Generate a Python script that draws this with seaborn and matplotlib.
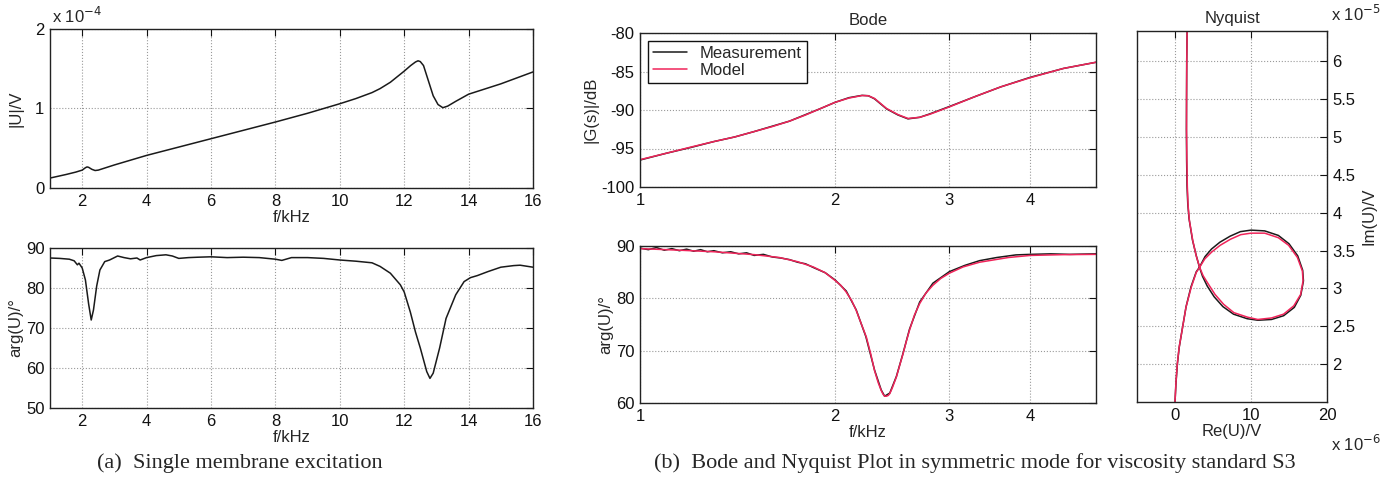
import numpy as np
import pandas as pd
import matplotlib
matplotlib.use("Agg")
import matplotlib.pyplot as plt
import seaborn as sns

# ---- data ----

# (a) single membrane excitation
a_freq = [1.0, 1.5, 1.8, 2.0, 2.1, 2.15, 2.2, 2.3, 2.4, 2.5, 3.0, 4.0, 5.0, 6.0, 7.0, 8.0, 9.0,
          10.0, 10.5, 11.0, 11.25, 11.57, 12.0, 12.2, 12.35, 12.43, 12.5, 12.6, 12.75, 12.9,
          13.05, 13.2, 13.35, 13.6, 14.0, 14.5, 15.0, 15.5, 16.0]
a_mag = [0.125, 0.17, 0.20, 0.225, 0.255, 0.265, 0.26, 0.235, 0.22, 0.225, 0.29, 0.41, 0.515,
         0.62, 0.725, 0.83, 0.94, 1.06, 1.125, 1.2, 1.25, 1.33, 1.47, 1.54, 1.585, 1.6, 1.59,
         1.54, 1.35, 1.16, 1.05, 1.01, 1.03, 1.09, 1.18, 1.245, 1.31, 1.385, 1.46]  # x 1e-4 V

a_pfreq = [1.0, 1.3, 1.6, 1.75, 1.85, 1.9, 2.0, 2.1, 2.2, 2.28, 2.35, 2.45, 2.55, 2.7, 2.85,
           3.0, 3.1, 3.3, 3.5, 3.7, 3.8, 4.0, 4.3, 4.6, 4.8, 5.0, 5.3, 5.6, 6.0, 6.5, 7.0, 7.5,
           8.0, 8.2, 8.5, 9.0, 9.5, 10.0, 10.5, 11.0, 11.25, 11.57, 11.88, 12.0, 12.19, 12.35,
           12.5, 12.7, 12.8, 12.9, 13.1, 13.3, 13.6, 13.86, 14.06, 14.27, 14.6, 15.0, 15.4,
           15.6, 16.0]
a_phase = [87.5, 87.4, 87.2, 86.8, 85.8, 86.2, 85.0, 82.0, 76.0, 72.0, 74.5, 80.5, 84.5, 86.6,
           87.0, 87.6, 88.0, 87.6, 87.3, 87.5, 87.0, 87.6, 88.1, 88.3, 88.0, 87.4, 87.6, 87.7,
           87.8, 87.6, 87.7, 87.6, 87.2, 86.9, 87.6, 87.6, 87.4, 87.0, 86.7, 86.3, 85.4, 83.7,
           80.8, 79.0, 74.0, 69.0, 65.0, 59.1, 57.4, 58.7, 65.0, 72.4, 78.3, 81.6, 82.6, 83.1,
           84.1, 85.2, 85.6, 85.7, 85.2]

# (b) Bode, magnitude
bode_freq = [1.0, 1.1, 1.2, 1.3, 1.4, 1.5, 1.6, 1.7, 1.8, 1.9, 2.0, 2.1, 2.2, 2.25, 2.3, 2.4,
             2.5, 2.59, 2.7, 2.8, 3.0, 3.3, 3.6, 4.0, 4.5, 5.05]
bode_mag_model = [-96.45, -95.6, -94.8, -94.1, -93.5, -92.8, -92.15, -91.45, -90.65, -89.8,
                  -89.0, -88.45, -88.12, -88.15, -88.5, -89.8, -90.6, -91.1, -90.95, -90.55,
                  -89.6, -88.2, -87.0, -85.8, -84.6, -83.8]
bode_mag_meas = [-96.5, -95.6, -94.85, -94.1, -93.5, -92.8, -92.1, -91.45, -90.6, -89.8,
                 -89.0, -88.4, -88.1, -88.15, -88.55, -89.85, -90.65, -91.15, -90.95, -90.5,
                 -89.55, -88.2, -87.0, -85.75, -84.6, -83.8]

# (b) Bode, phase
model_pfreq = [1.0, 1.15, 1.3, 1.5, 1.64, 1.75, 1.85, 1.93, 2.0, 2.04, 2.08, 2.12, 2.155,
               2.19, 2.234, 2.27, 2.30, 2.33, 2.355, 2.37, 2.384, 2.40, 2.415, 2.428, 2.45,
               2.486, 2.515, 2.545, 2.575, 2.604, 2.65, 2.70, 2.76, 2.83, 2.91, 3.0, 3.15,
               3.34, 3.7, 4.0, 4.5, 5.05]
model_phase = [89.5, 89.2, 88.9, 88.35, 87.8, 87.0, 86.0, 84.9, 83.4, 82.5, 81.2, 79.6, 77.7,
               75.4, 72.6, 69.3, 66.2, 63.9, 62.4, 61.7, 61.3, 61.3, 61.45, 61.8, 62.9, 65.0,
               67.2, 69.4, 71.8, 73.9, 76.8, 79.0, 81.0, 82.5, 83.8, 84.8, 86.0, 86.9, 87.8,
               88.2, 88.35, 88.4]
meas_pfreq = [1.0, 1.03, 1.06, 1.09, 1.12, 1.15, 1.18, 1.21, 1.24, 1.27, 1.30, 1.34, 1.38,
              1.42, 1.46, 1.50, 1.55, 1.60, 1.65, 1.70, 1.75, 1.80, 1.85, 1.93, 2.0, 2.08,
              2.155, 2.23, 2.30, 2.355, 2.384, 2.428, 2.486, 2.545, 2.604, 2.70, 2.83, 3.0,
              3.17, 3.34, 3.55, 3.8, 4.0, 4.3, 4.6, 5.05]
meas_phase = [89.6, 89.3, 89.7, 89.2, 89.5, 89.1, 89.4, 89.0, 89.3, 88.9, 89.1, 88.7, 88.9,
              88.5, 88.7, 88.2, 88.4, 87.9, 87.7, 87.4, 86.9, 86.6, 85.9, 84.9, 83.5, 81.4,
              77.8, 72.7, 66.3, 62.5, 61.3, 61.9, 65.1, 69.5, 74.1, 79.3, 82.9, 85.1, 86.3,
              87.2, 87.8, 88.3, 88.4, 88.5, 88.4, 88.5]

# (b) Nyquist, Re in 1e-6 V, Im in 1e-5 V
nyq_re_model = [0.00, 0.12, 0.30, 0.54, 0.99, 1.44, 2.12, 2.79, 3.24, 3.92, 4.82, 5.95, 7.30,
                8.65, 10.0, 11.8, 13.6, 14.95, 16.1, 16.76, 16.85, 16.53, 15.63, 14.28, 12.70,
                10.90, 9.55, 7.75, 6.40, 5.27, 4.37, 3.69, 3.24, 2.79, 2.34, 1.89, 1.72, 1.62,
                1.56, 1.52, 1.52, 1.55, 1.60]
nyq_im_model = [1.50, 1.75, 2.00, 2.22, 2.48, 2.75, 3.01, 3.21, 3.28, 3.39, 3.48, 3.57, 3.65,
                3.71, 3.73, 3.73, 3.67, 3.57, 3.41, 3.23, 3.10, 2.92, 2.77, 2.66, 2.61, 2.59,
                2.62, 2.68, 2.79, 2.92, 3.06, 3.17, 3.28, 3.43, 3.63, 3.90, 4.10, 4.35, 4.70,
                5.10, 5.50, 6.00, 6.45]
nyq_re_meas = [0.00, 0.13, 0.31, 0.55, 1.00, 1.46, 2.10, 2.80, 3.22, 3.95, 4.80, 5.90, 7.25,
               8.60, 10.0, 11.8, 13.6, 15.0, 16.15, 16.8, 16.9, 16.55, 15.7, 14.3, 12.7, 10.9,
               9.5, 7.7, 6.3, 5.15, 4.25, 3.62, 3.22, 2.78, 2.30, 1.85, 1.68, 1.58, 1.53, 1.50,
               1.52, 1.54, 1.60]
nyq_im_meas = [1.50, 1.75, 2.00, 2.22, 2.49, 2.76, 3.02, 3.22, 3.28, 3.42, 3.52, 3.61, 3.69,
               3.75, 3.77, 3.76, 3.70, 3.59, 3.43, 3.24, 3.10, 2.91, 2.75, 2.64, 2.59, 2.58,
               2.60, 2.66, 2.76, 2.89, 3.03, 3.16, 3.28, 3.44, 3.64, 3.92, 4.12, 4.36, 4.70,
               5.10, 5.50, 6.00, 6.45]

# ---- styling ----
sns.set_theme(style="white")
plt.rcParams["font.family"] = ["Liberation Sans", "DejaVu Sans"]
plt.rcParams["font.size"] = 12
plt.rcParams["axes.unicode_minus"] = False

MEAS = "#1a1a1a"
MODEL = "#f0245a"
W, H = 1395, 495


def pos(l, r, t, b):
    return [l / W, (H - b) / H, (r - l) / W, (b - t) / H]


def matlab_style(ax):
    for s in ax.spines.values():
        s.set_color("#222222")
        s.set_linewidth(1.0)
    ax.tick_params(direction="in", length=5, width=0.8, top=True, right=True,
                   labelsize=12, colors="#111111", pad=4)
    ax.grid(True, linestyle=":", color="#9a9a9a", linewidth=0.8)


fig = plt.figure(figsize=(W / 100, H / 100), dpi=100)

# (a) top
ax1 = fig.add_axes(pos(50, 533, 29, 188))
sns.lineplot(x=a_freq, y=a_mag, ax=ax1, color=MEAS, linewidth=1.1, sort=False, estimator=None)
ax1.set_xlim(1, 16)
ax1.set_ylim(0, 2)
ax1.set_xticks([2, 4, 6, 8, 10, 12, 14, 16])
ax1.set_yticks([0, 1, 2])
ax1.set_xlabel("f/kHz", fontsize=12, labelpad=1)
ax1.set_ylabel("|U|/V", fontsize=12, labelpad=8)
matlab_style(ax1)
ax1.text(0.005, 1.02, r"x 10$^{-4}$", transform=ax1.transAxes, fontsize=12, ha="left", va="bottom")

# (a) bottom
ax2 = fig.add_axes(pos(50, 533, 248, 408))
sns.lineplot(x=a_pfreq, y=a_phase, ax=ax2, color=MEAS, linewidth=1.1, sort=False, estimator=None)
ax2.set_xlim(1, 16)
ax2.set_ylim(50, 90)
ax2.set_xticks([2, 4, 6, 8, 10, 12, 14, 16])
ax2.set_yticks([50, 60, 70, 80, 90])
ax2.set_xlabel("f/kHz", fontsize=12, labelpad=1)
ax2.set_ylabel("arg(U)/°", fontsize=12, labelpad=2)
matlab_style(ax2)

# Bode magnitude
ax3 = fig.add_axes(pos(640, 1096, 33, 187))
sns.lineplot(x=bode_freq, y=bode_mag_meas, ax=ax3, color=MEAS, linewidth=1.1,
             sort=False, estimator=None, label="Measurement")
sns.lineplot(x=bode_freq, y=bode_mag_model, ax=ax3, color=MODEL, linewidth=1.1,
             sort=False, estimator=None, label="Model")
ax3.set_xscale("log")
ax3.set_xlim(1, 5.05)
ax3.set_ylim(-100, -80)
ax3.set_xticks([1, 2, 3, 4])
ax3.set_xticklabels(["1", "2", "3", "4"])
ax3.minorticks_off()
ax3.set_yticks([-100, -95, -90, -85, -80])
ax3.set_ylabel("|G(s)|/dB", fontsize=12, labelpad=2)
ax3.set_title("Bode", fontsize=12, pad=6)
matlab_style(ax3)
leg = ax3.legend(loc="upper left", fontsize=12, frameon=True, fancybox=False,
                 edgecolor="#111111", framealpha=1, handlelength=2.0,
                 borderaxespad=0.5, borderpad=0.3, labelspacing=0.1, handletextpad=0.8)
leg.get_frame().set_linewidth(1.0)

# Bode phase
ax4 = fig.add_axes(pos(640, 1096, 246, 403))
sns.lineplot(x=meas_pfreq, y=meas_phase, ax=ax4, color=MEAS, linewidth=1.1,
             sort=False, estimator=None)
sns.lineplot(x=model_pfreq, y=model_phase, ax=ax4, color=MODEL, linewidth=1.1,
             sort=False, estimator=None)
ax4.set_xscale("log")
ax4.set_xlim(1, 5.05)
ax4.set_ylim(60, 90)
ax4.set_xticks([1, 2, 3, 4])
ax4.set_xticklabels(["1", "2", "3", "4"])
ax4.minorticks_off()
ax4.set_yticks([60, 70, 80, 90])
ax4.set_xlabel("f/kHz", fontsize=12, labelpad=1)
ax4.set_ylabel("arg(U)/°", fontsize=12, labelpad=2)
matlab_style(ax4)

# Nyquist
ax5 = fig.add_axes(pos(1137, 1327, 31, 402))
sns.lineplot(x=nyq_re_meas, y=nyq_im_meas, ax=ax5, color=MEAS, linewidth=1.1,
             sort=False, estimator=None)
sns.lineplot(x=nyq_re_model, y=nyq_im_model, ax=ax5, color=MODEL, linewidth=1.1,
             sort=False, estimator=None)
ax5.set_xlim(-5, 20)
ax5.set_ylim(1.5, 6.4)
ax5.set_xticks([0, 10, 20])
ax5.set_yticks([2, 2.5, 3, 3.5, 4, 4.5, 5, 5.5, 6])
ax5.set_yticklabels(["2", "2.5", "3", "3.5", "4", "4.5", "5", "5.5", "6"])
matlab_style(ax5)
ax5.tick_params(labelleft=False, labelright=True)
ax5.yaxis.set_label_position("right")
ax5.set_ylabel("Im(U)/V", fontsize=12, labelpad=4)
ax5.set_xlabel("Re(U)/V", fontsize=12, labelpad=1)
ax5.set_title("Nyquist", fontsize=12, pad=6)
ax5.text(1.02, 1.02, r"x 10$^{-5}$", transform=ax5.transAxes, fontsize=12, ha="left", va="bottom")
ax5.text(1.02, -0.085, r"x 10$^{-6}$", transform=ax5.transAxes, fontsize=12, ha="left", va="top")

# captions
serif = ["Liberation Serif", "DejaVu Serif"]
fig.text(240 / W, 1 - 463 / H, "(a)  Single membrane excitation", ha="center", va="center",
         fontsize=16, family=serif)
fig.text(975 / W, 1 - 463 / H,
         "(b)  Bode and Nyquist Plot in symmetric mode for viscosity standard S3",
         ha="center", va="center", fontsize=16, family=serif)

fig.savefig("out.png", dpi=100, facecolor="white")
